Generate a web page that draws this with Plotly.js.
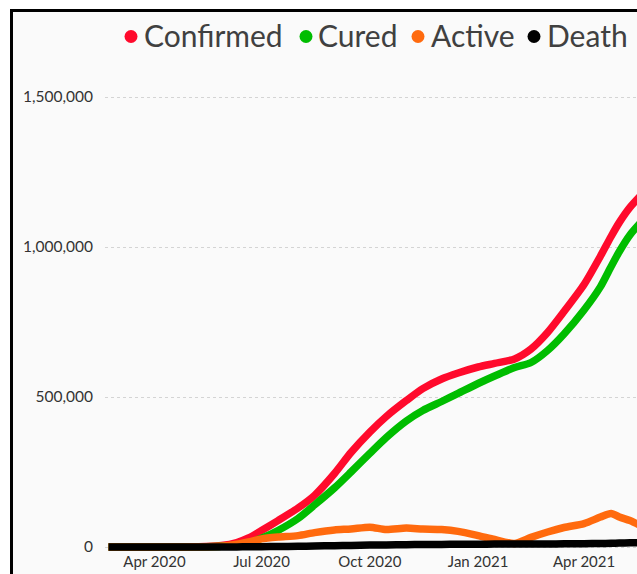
<!DOCTYPE html>
<html>
<head>
<meta charset="utf-8">
<script src="https://cdn.plot.ly/plotly-3.0.1.min.js"></script>
<style>
  html, body { margin: 0; padding: 0; background: #ffffff; width: 637px; height: 574px; overflow: hidden; }
  #frame { position: absolute; left: 10px; top: 9px; width: 640px; height: 580px;
           border-left: 3px solid #000; border-top: 3px solid #000; background: #fafafa; }
  #chart { position: absolute; left: 0; top: 0; width: 637px; height: 574px; }
</style>
</head>
<body>
<div id="frame"></div>
<div id="chart"></div>
<script>
const dates = ["2020-02-22","2020-03-15","2020-04-05","2020-04-25","2020-05-15","2020-05-28",
  "2020-06-10","2020-06-20","2020-07-01","2020-07-15","2020-08-01","2020-08-15","2020-09-01",
  "2020-09-15","2020-10-01","2020-10-15","2020-11-01","2020-11-15","2020-12-01","2020-12-15",
  "2021-01-01","2021-01-15","2021-02-01","2021-02-15","2021-03-01","2021-03-15","2021-04-01",
  "2021-04-15","2021-04-24","2021-05-01","2021-05-10","2021-05-20"];
const confirmed = [0,100,300,800,2000,5000,15000,30000,55000,88000,130000,172000,245000,315000,
  383000,435000,488000,528000,560000,580000,600000,612000,627000,660000,715000,785000,875000,
  970000,1035000,1082000,1132000,1175000];
const cured = [0,0,100,400,1000,2500,7000,14000,29000,55000,95000,140000,197000,250000,312000,
  365000,420000,455000,485000,512000,545000,570000,598000,615000,655000,710000,790000,868000,
  935000,985000,1040000,1085000];
const active = [0,0,200,400,1000,2500,9000,17000,27000,33000,38000,48000,57000,60000,66000,
  58000,63000,60000,58000,52000,38000,25000,12000,32000,50000,65000,78000,100000,112000,100000,
  88000,70000];
const death = [0,0,10,30,60,100,300,600,1000,1600,2500,3300,4500,5400,6300,7000,7700,8200,8600,
  9000,9300,9600,9800,10000,10200,10500,11000,11800,12400,13000,13800,14800];

const seriesNames = ["Confirmed","Cured","Active","Death"];
const seriesColors = ["#ff0a2c","#00bd00","#ff6a0e","#000000"];
const seriesValues = [confirmed, cured, active, death];
const xTickVals = ["2020-04-01","2020-07-01","2020-10-01","2021-01-01","2021-04-01"];
const xTickText = ["Apr 2020","Jul 2020","Oct 2020","Jan 2021","Apr 2021"];
const yTickVals = [0, 500000, 1000000, 1500000];
const yTickText = ["0","500,000","1,000,000","1,500,000"];

// legend layout (page pixels) — positions only
const W = 637, H = 574, ML = 105, MR = 0, MT = 60, MB = 23;
const legendDotX = [131, 306, 418, 534];
const legendTextX = [143, 317, 430, 546];
const legendY = 34.5, legendDotY = 36.5;
const px2paperX = p => (p - ML) / (W - ML - MR);
const px2paperY = p => (H - MB - p) / (H - MT - MB);

const traces = seriesValues.map((vals, i) => ({
  x: dates, y: vals, type: "scatter", mode: "lines",
  line: {color: seriesColors[i], width: 7.5, shape: "spline", smoothing: 0.7},
  showlegend: false, name: seriesNames[i]
}));

const annotations = seriesNames.map((n, i) => ({
  text: n, xref: "paper", yref: "paper",
  x: px2paperX(legendTextX[i]), y: px2paperY(legendY),
  xanchor: "left", yanchor: "middle", showarrow: false, borderpad: 0,
  font: {family: "Lato, sans-serif", size: 30, color: "#404040"}
}));
const shapes = seriesNames.map((n, i) => ({
  type: "circle", xref: "paper", yref: "paper",
  xsizemode: "pixel", ysizemode: "pixel",
  xanchor: px2paperX(legendDotX[i]), yanchor: px2paperY(legendDotY),
  x0: -6.5, x1: 6.5, y0: -6.5, y1: 6.5,
  fillcolor: seriesColors[i], line: {width: 0}
}));

const layout = {
  width: W, height: H,
  paper_bgcolor: "rgba(0,0,0,0)", plot_bgcolor: "rgba(0,0,0,0)",
  margin: {l: ML, r: MR, t: MT, b: MB},
  font: {family: "Lato, sans-serif", color: "#333333"},
  showlegend: false,
  annotations: annotations, shapes: shapes,
  xaxis: {
    type: "date", range: ["2020-02-19", "2021-05-16"],
    tickvals: xTickVals, ticktext: xTickText,
    showgrid: false, zeroline: false, showline: false,
    ticks: "",
    tickfont: {family: "Lato, sans-serif", size: 15, color: "#333333"}
  },
  yaxis: {
    range: [-13333, 1623333],
    tickvals: yTickVals, ticktext: yTickText,
    showgrid: true, gridcolor: "#d4d4d4", griddash: "dot", gridwidth: 1,
    zeroline: false, showline: false,
    ticks: "outside", ticklen: 8, tickcolor: "rgba(0,0,0,0)",
    tickfont: {family: "Lato, sans-serif", size: 15.5, color: "#333333"}
  }
};

Plotly.newPlot("chart", traces, layout, {displayModeBar: false, staticPlot: true});
</script>
</body>
</html>
